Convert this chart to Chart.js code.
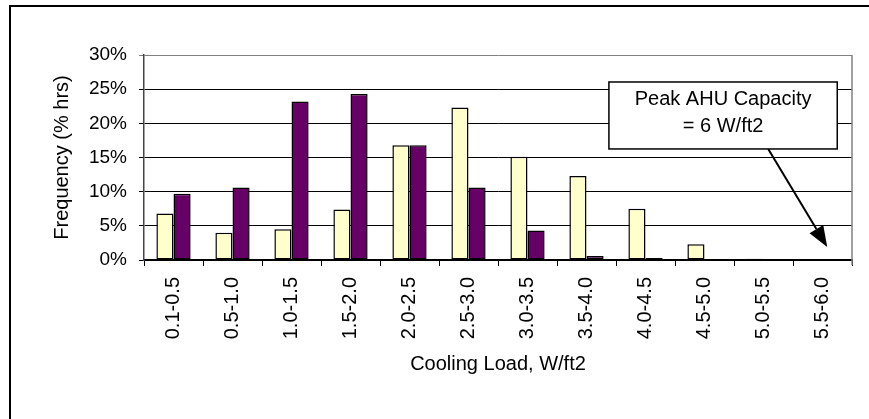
<!DOCTYPE html>
<html>
<head>
<meta charset="utf-8">
<script src="https://cdn.jsdelivr.net/npm/chart.js@4.4.0/dist/chart.umd.min.js"></script>
<style>
  html, body { margin: 0; padding: 0; background: #fff; }
  canvas { display: block; }
</style>
</head>
<body>
<canvas id="chart-carga" width="869" height="419"></canvas>
<script>
// datos (% de horas por rango de carga)
const rangos = ['0.1-0.5', '0.5-1.0', '1.0-1.5', '1.5-2.0', '2.0-2.5', '2.5-3.0',
                '3.0-3.5', '3.5-4.0', '4.0-4.5', '4.5-5.0', '5.0-5.5', '5.5-6.0'];
const serieAmarilla = [6.8, 4.0, 4.5, 7.4, 16.8, 22.3, 15.1, 12.3, 7.5, 2.3, 0.2, 0];
const seriePurpura  = [9.7, 10.6, 23.2, 24.3, 16.8, 10.6, 4.3, 0.6, 0.3, 0, 0, 0];
const frecuenciaMax = 30;
const frecuenciaPaso = 5;
const notaTexto = ['Peak AHU Capacity', '= 6 W/ft2'];

const fuente = "'Liberation Sans', Arial, sans-serif";

// caja y flecha de la nota, en unidades de los ejes (indice de categoria, %)
const nota = { x0: 7.38, x1: 11.25, yTop: 26.05, yBottom: 16.25, desde: [10.08, 16.25], hasta: [11.08, 1.9] };

const marcoYNota = {
  id: 'marcoYNota',
  afterDraw(chart) {
    const { ctx, chartArea: a, scales: { x, y } } = chart;
    ctx.save();
    // borde derecho del area
    ctx.strokeStyle = '#808080';
    ctx.lineWidth = 1.5;
    ctx.beginPath();
    ctx.moveTo(a.right, a.top);
    ctx.lineTo(a.right, a.bottom + 5);
    ctx.stroke();

    // flecha
    const fx0 = x.getPixelForValue(nota.desde[0]), fy0 = y.getPixelForValue(nota.desde[1]);
    const fx1 = x.getPixelForValue(nota.hasta[0]), fy1 = y.getPixelForValue(nota.hasta[1]);
    const ang = Math.atan2(fy1 - fy0, fx1 - fx0);
    const largo = 21, ancho = 8;
    ctx.strokeStyle = '#000';
    ctx.lineWidth = 2;
    ctx.beginPath();
    ctx.moveTo(fx0, fy0);
    ctx.lineTo(fx1 - Math.cos(ang) * largo, fy1 - Math.sin(ang) * largo);
    ctx.stroke();
    ctx.fillStyle = '#000';
    ctx.beginPath();
    ctx.moveTo(fx1, fy1);
    ctx.lineTo(fx1 - Math.cos(ang) * largo - Math.sin(ang) * ancho, fy1 - Math.sin(ang) * largo + Math.cos(ang) * ancho);
    ctx.lineTo(fx1 - Math.cos(ang) * largo + Math.sin(ang) * ancho, fy1 - Math.sin(ang) * largo - Math.cos(ang) * ancho);
    ctx.closePath();
    ctx.fill();

    // caja de texto
    const bx0 = x.getPixelForValue(nota.x0), bx1 = x.getPixelForValue(nota.x1);
    const by0 = y.getPixelForValue(nota.yTop), by1 = y.getPixelForValue(nota.yBottom);
    ctx.fillStyle = '#fff';
    ctx.fillRect(bx0, by0, bx1 - bx0, by1 - by0);
    ctx.strokeStyle = '#000';
    ctx.lineWidth = 1.5;
    ctx.strokeRect(bx0, by0, bx1 - bx0, by1 - by0);
    ctx.fillStyle = '#000';
    ctx.font = `20px ${fuente}`;
    ctx.textAlign = 'center';
    ctx.textBaseline = 'middle';
    const cx = (bx0 + bx1) / 2;
    ctx.fillText(notaTexto[0], cx, by0 + 17);
    ctx.fillText(notaTexto[1], cx, by0 + 44);

    // marco exterior
    ctx.strokeStyle = '#000';
    ctx.lineWidth = 2;
    ctx.beginPath();
    ctx.moveTo(10, chart.height);
    ctx.lineTo(10, 6);
    ctx.lineTo(chart.width, 6);
    ctx.stroke();
    ctx.restore();
  }
};

const ctx = document.getElementById('chart-carga');
new Chart(ctx, {
  type: 'bar',
  data: {
    labels: rangos,
    datasets: [
      {
        label: 'Serie 1',
        data: serieAmarilla,
        backgroundColor: '#FFFFCC',
        borderColor: '#000',
        borderWidth: 1.5,
        borderSkipped: false
      },
      {
        label: 'Serie 2',
        data: seriePurpura,
        backgroundColor: '#660066',
        borderColor: '#000',
        borderWidth: 1.5,
        borderSkipped: false
      }
    ]
  },
  options: {
    responsive: false,
    animation: false,
    layout: { padding: { left: 50, top: 55, right: 17, bottom: 43 } },
    datasets: { bar: { categoryPercentage: 0.58, barPercentage: 1 } },
    plugins: { legend: { display: false }, tooltip: { enabled: false } },
    scales: {
      x: {
        afterFit: (s) => { s.height = 116; },
        grid: { drawOnChartArea: false, drawTicks: true, tickLength: 6, color: '#000', lineWidth: 1 },
        border: { display: true, color: '#000', width: 1.5 },
        ticks: { minRotation: 90, maxRotation: 90, padding: 11, color: '#000', font: { family: fuente, size: 20 } },
        title: { display: true, text: 'Cooling Load, W/ft2', color: '#000', padding: { top: 0, bottom: 0 }, font: { family: fuente, size: 20 } }
      },
      y: {
        min: 0,
        max: frecuenciaMax,
        afterFit: (s) => { s.width = 94; },
        grid: {
          tickLength: 5,
          lineWidth: 1,
          color: (c) => (c.tick && c.tick.value === frecuenciaMax ? '#808080' : '#000')
        },
        border: { display: true, color: '#444', width: 1.5 },
        ticks: { stepSize: frecuenciaPaso, padding: 12, color: '#000', font: { family: fuente, size: 19 }, callback: (v) => v + '%' },
        title: { display: true, text: 'Frequency (% hrs)', color: '#000', padding: { top: 0, bottom: 0 }, font: { family: fuente, size: 20 } }
      }
    }
  },
  plugins: [marcoYNota]
});
</script>
</body>
</html>
